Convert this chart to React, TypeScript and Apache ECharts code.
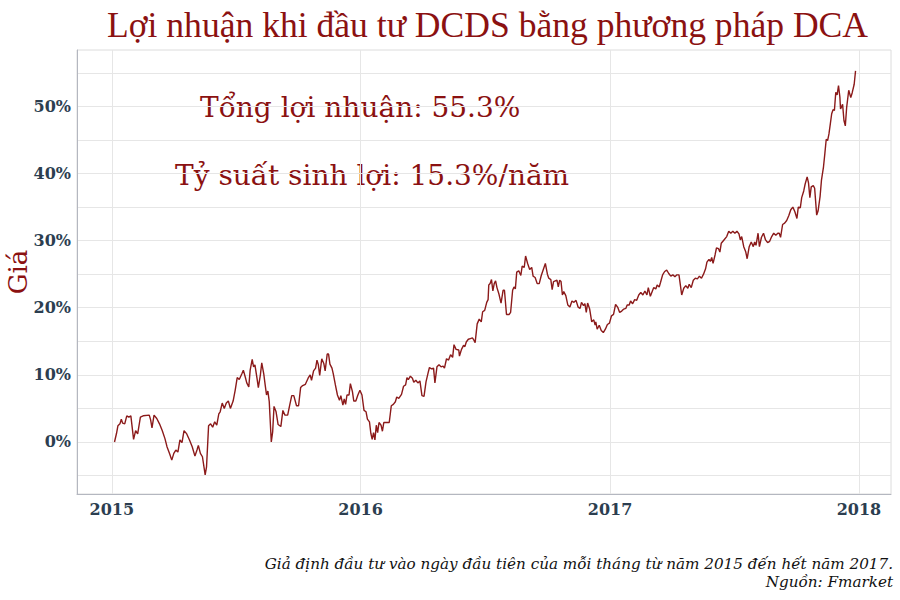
import React, { useEffect, useRef } from "react";
import * as echarts from "echarts";

// Days since 2015-01-01 for each observation
const DAY_OFFSET: number[] = [
  4, 7, 9, 12, 14, 16, 19, 22, 25, 28, 32, 35, 38, 42, 46, 55, 57, 59, 62, 66,
  70, 74, 78, 81, 85, 88, 91, 94, 97, 100, 103, 106, 110, 114, 118, 122, 125, 127, 130, 133,
  137, 139, 142, 145, 148, 151, 154, 157, 159, 162, 165, 168, 171, 174, 178, 181, 184, 187, 191, 193,
  196, 198, 201, 203, 206, 208, 210, 213, 215, 218, 220, 223, 225, 227, 229, 231, 234, 236, 238, 241,
  244, 248, 251, 254, 258, 261, 264, 267, 271, 274, 277, 280, 284, 288, 291, 293, 296, 299, 301, 303,
  305, 308, 311, 313, 316, 318, 320, 323, 325, 328, 331, 334, 336, 339, 341, 343, 345, 348, 350, 353,
  355, 358, 361, 364, 367, 370, 373, 375, 378, 380, 382, 384, 386, 388, 390, 392, 395, 397, 399, 403,
  407, 410, 413, 416, 418, 421, 425, 428, 431, 433, 435, 438, 441, 443, 446, 449, 452, 455, 458, 461,
  464, 466, 469, 472, 474, 477, 480, 483, 486, 488, 491, 494, 497, 500, 502, 505, 509, 510, 513, 516,
  518, 520, 523, 526, 529, 531, 533, 536, 539, 542, 544, 547, 550, 552, 553, 555, 557, 559, 561, 563,
  565, 568, 571, 574, 576, 579, 583, 585, 588, 590, 592, 594, 597, 600, 602, 605, 607, 610, 613, 616,
  618, 621, 624, 627, 630, 633, 636, 639, 641, 644, 646, 648, 653, 655, 657, 659, 661, 663, 666, 669,
  672, 675, 678, 681, 684, 687, 689, 692, 694, 696, 698, 701, 704, 707, 709, 710, 712, 715, 718, 721,
  724, 727, 730, 733, 736, 739, 742, 745, 748, 751, 754, 756, 759, 761, 764, 767, 770, 773, 776, 779,
  782, 785, 787, 790, 793, 795, 798, 800, 803, 805, 808, 811, 814, 817, 820, 823, 826, 829, 832, 834,
  836, 839, 842, 845, 847, 850, 853, 856, 859, 862, 865, 868, 871, 873, 876, 878, 880, 882, 885, 887,
  890, 892, 894, 898, 902, 905, 908, 911, 914, 917, 920, 922, 924, 927, 930, 932, 935, 938, 941, 943,
  945, 948, 950, 953, 956, 959, 962, 965, 968, 971, 974, 977, 979, 981, 984, 987, 990, 993, 996, 999,
  1002, 1005, 1007, 1010, 1012, 1015, 1017, 1020, 1022, 1024, 1026, 1029, 1031, 1034, 1036, 1039, 1041, 1044, 1046, 1048,
  1050, 1052, 1054, 1056, 1058, 1060, 1062, 1064, 1066, 1068, 1069, 1072, 1074, 1076, 1078, 1081, 1084, 1086, 1089, 1090,
  1091,
];

// Cumulative return (%) for each observation
const RETURN_PCT: number[] = [
  0.0, 1.3, 2.4, 2.7, 3.4, 2.8, 2.7, 3.9, 3.7, 3.9, 0.4, 1.7, 1.2, 3.7, 3.9, 4.0, 3.3, 2.1, 4.0, 3.5,
  2.7, 1.7, 0.5, -0.7, -1.8, -2.7, -1.7, -1.2, -1.5, 0.3, -0.1, 1.7, 1.2, 0.3, -0.7, -2.1, -1.2, -0.5, -1.7, -2.2,
  -4.9, -3.7, 2.4, 2.7, 2.2, 3.0, 2.5, 4.2, 4.5, 5.8, 5.0, 5.8, 6.1, 5.0, 6.1, 7.7, 9.6, 9.3, 10.2, 10.7,
  9.6, 8.8, 8.2, 10.7, 12.3, 11.2, 11.5, 9.5, 8.1, 10.0, 11.8, 10.1, 8.5, 7.0, 7.6, 6.0, 0.0, 1.5, 5.3, 4.5,
  2.6, 2.3, 4.7, 4.0, 4.0, 5.5, 6.9, 6.9, 5.4, 5.4, 8.1, 8.4, 8.6, 9.5, 10.0, 9.2, 10.6, 11.0, 12.2, 11.5,
  9.9, 12.4, 11.7, 10.6, 13.1, 13.1, 11.6, 11.0, 10.1, 8.5, 7.0, 6.2, 6.9, 5.5, 6.4, 5.6, 7.0, 7.0, 8.7, 7.5,
  6.1, 6.1, 7.0, 7.7, 7.0, 4.7, 4.5, 3.4, 3.0, 1.3, 0.4, 1.4, 0.3, 2.5, 1.4, 2.9, 2.5, 1.6, 2.9, 2.9,
  2.9, 5.4, 5.6, 6.0, 6.7, 6.5, 7.1, 8.3, 8.5, 9.6, 9.3, 9.8, 9.5, 8.9, 9.2, 8.8, 9.1, 6.9, 6.8, 9.0,
  10.3, 11.1, 10.9, 11.0, 8.8, 11.2, 11.5, 11.2, 11.3, 11.0, 12.4, 12.2, 13.0, 12.6, 14.5, 13.8, 13.7, 12.8, 13.8, 14.4,
  14.2, 14.9, 15.3, 15.4, 15.5, 15.2, 14.8, 17.6, 18.3, 17.9, 19.4, 19.6, 20.8, 21.2, 23.4, 23.6, 24.2, 22.5, 23.6, 24.0,
  23.0, 22.0, 20.7, 22.6, 22.6, 19.0, 19.0, 19.3, 22.6, 23.1, 22.8, 25.3, 25.5, 24.8, 26.2, 26.0, 27.7, 26.6, 25.7, 26.0,
  24.7, 24.5, 23.6, 23.6, 24.8, 25.7, 26.6, 25.0, 24.4, 24.2, 22.7, 23.9, 24.1, 23.1, 24.1, 23.9, 21.9, 22.4, 21.8, 20.4,
  20.1, 21.0, 20.8, 21.1, 20.1, 19.9, 20.8, 20.3, 20.6, 19.3, 20.7, 19.8, 17.9, 18.2, 17.4, 17.9, 16.8, 17.4, 16.6, 16.3,
  16.8, 17.5, 17.7, 18.8, 19.0, 20.5, 20.1, 19.3, 19.5, 19.8, 19.9, 20.4, 20.4, 21.0, 20.6, 21.2, 21.1, 21.9, 22.3, 21.9,
  22.5, 21.9, 23.0, 21.7, 22.5, 23.0, 22.8, 23.4, 23.1, 23.8, 24.9, 25.4, 25.6, 25.1, 24.7, 24.9, 24.6, 24.9, 24.9, 23.4,
  21.9, 22.9, 23.3, 22.9, 23.5, 23.0, 24.1, 24.4, 24.3, 24.7, 24.4, 25.0, 25.8, 26.8, 27.2, 26.9, 27.5, 26.6, 27.9, 28.9,
  28.8, 28.3, 29.6, 30.1, 30.6, 31.4, 31.1, 31.4, 31.1, 31.4, 31.0, 30.1, 30.6, 29.1, 28.3, 27.3, 29.1, 29.8, 29.1, 29.8,
  29.3, 31.1, 29.1, 30.5, 31.1, 30.1, 29.7, 29.9, 30.6, 31.1, 30.8, 31.1, 31.1, 30.5, 32.4, 32.6, 33.0, 33.7, 34.6, 35.0,
  34.3, 33.3, 35.0, 34.9, 36.4, 37.4, 38.4, 39.5, 38.6, 36.4, 38.0, 38.2, 37.8, 33.8, 34.4, 36.6, 39.0, 41.0, 43.0, 45.1,
  44.9, 45.9, 47.4, 48.9, 49.5, 49.4, 52.1, 51.7, 53.1, 51.4, 49.6, 50.3, 47.9, 47.1, 49.9, 52.4, 51.3, 52.0, 53.3, 54.3,
  55.3,
];

const YEAR_TICKS: number[] = [2015, 2016, 2017, 2018];
const Y_LABEL_TICKS: number[] = [0, 10, 20, 30, 40, 50];
const Y_GRID_TICKS: number[] = [-5, 0, 5, 10, 15, 20, 25, 30, 35, 40, 45, 50, 55];

const TITLE = "Lợi nhuận khi đầu tư DCDS bằng phương pháp DCA";
const NOTE_TOTAL = "Tổng lợi nhuận: 55.3%";
const NOTE_RATE = "Tỷ suất sinh lợi: 15.3%/năm";
const CAPTION_LINE_1 = "Giả định đầu tư vào ngày đầu tiên của mỗi tháng từ năm 2015 đến hết năm 2017.";
const CAPTION_LINE_2 = "Nguồn: Fmarket";
const Y_NAME = "Giá";

const DAY_MS = 86400000;
const START = Date.UTC(2015, 0, 1);

export default function App() {
  const ref = useRef<HTMLDivElement>(null);
  useEffect(() => {
    if (!ref.current) return;
    const chart = echarts.init(ref.current, null, { renderer: "svg" });
    const data = DAY_OFFSET.map((d, i) => [START + d * DAY_MS, RETURN_PCT[i]]);
    const yearTs = YEAR_TICKS.map((y) => Date.UTC(y, 0, 1));
    const red = "#8b1a1a";
    const textRed = "#8b1111";
    const tickColor = "#2c3e50";
    chart.setOption({
      animation: false,
      backgroundColor: "#ffffff",
      title: {
        text: TITLE,
        left: 102,
        top: 2,
        textStyle: {
          fontFamily: "Liberation Serif",
          fontSize: 35.6,
          fontWeight: "normal",
          color: textRed,
        },
      },
      grid: {
        left: 77,
        right: 9,
        top: 50,
        bottom: 106,
        containLabel: false,
        outerBoundsMode: "none",
        show: true,
        borderColor: "#dcdcdc",
        borderWidth: 1,
      },
      xAxis: {
        type: "value",
        min: START - 51 * DAY_MS,
        max: START + 1143 * DAY_MS,
        axisLine: { show: true, onZero: false, lineStyle: { color: "#b4b7c0", width: 1 } },
        axisTick: { show: false, customValues: yearTs },
        axisLabel: {
          customValues: yearTs,
          formatter: (v: number) => String(new Date(v).getUTCFullYear()),
          fontFamily: "DejaVu Serif",
          fontWeight: "bold",
          fontSize: 16,
          color: tickColor,
          margin: 7,
        },
        splitLine: { show: true, lineStyle: { color: "#e6e6e6", width: 1 } },
      },
      yAxis: {
        type: "value",
        min: -7.75,
        max: 58.4,
        axisLine: { show: true, lineStyle: { color: "#b4b7c0", width: 1 } },
        axisTick: { show: false, customValues: Y_GRID_TICKS },
        axisLabel: {
          customValues: Y_LABEL_TICKS,
          formatter: (v: number) => `${v}%`,
          fontFamily: "DejaVu Serif",
          fontWeight: "bold",
          fontSize: 16,
          color: tickColor,
          margin: 6,
        },
        splitLine: { show: true, lineStyle: { color: "#e6e6e6", width: 1 } },
      },
      graphic: [
        {
          type: "text",
          x: 18,
          y: 272,
          rotation: Math.PI / 2,
          style: {
            text: Y_NAME,
            font: "26px 'DejaVu Serif'",
            fill: textRed,
            align: "center",
            verticalAlign: "middle",
          },
        },
        {
          type: "text",
          x: 200,
          y: 107,
          style: {
            text: NOTE_TOTAL,
            font: "28px 'DejaVu Serif'",
            fill: textRed,
            verticalAlign: "middle",
          },
        },
        {
          type: "text",
          x: 175,
          y: 175,
          style: {
            text: NOTE_RATE,
            font: "28px 'DejaVu Serif'",
            fill: textRed,
            verticalAlign: "middle",
          },
        },
        {
          type: "text",
          x: 893,
          y: 564,
          style: {
            text: CAPTION_LINE_1,
            font: "italic 15.2px 'DejaVu Serif'",
            fill: "#111111",
            align: "right",
            verticalAlign: "middle",
          },
        },
        {
          type: "text",
          x: 893,
          y: 582,
          style: {
            text: CAPTION_LINE_2,
            font: "italic 15.2px 'DejaVu Serif'",
            fill: "#111111",
            align: "right",
            verticalAlign: "middle",
          },
        },
      ],
      series: [
        {
          type: "line",
          data,
          showSymbol: false,
          symbol: "none",
          lineStyle: { color: red, width: 1.4 },
          itemStyle: { color: red },
          silent: true,
        },
      ],
    });
    return () => chart.dispose();
  }, []);
  return (
    <div
      ref={ref}
      style={{ position: "fixed", left: 0, top: 0, width: 900, height: 600 }}
    />
  );
}
